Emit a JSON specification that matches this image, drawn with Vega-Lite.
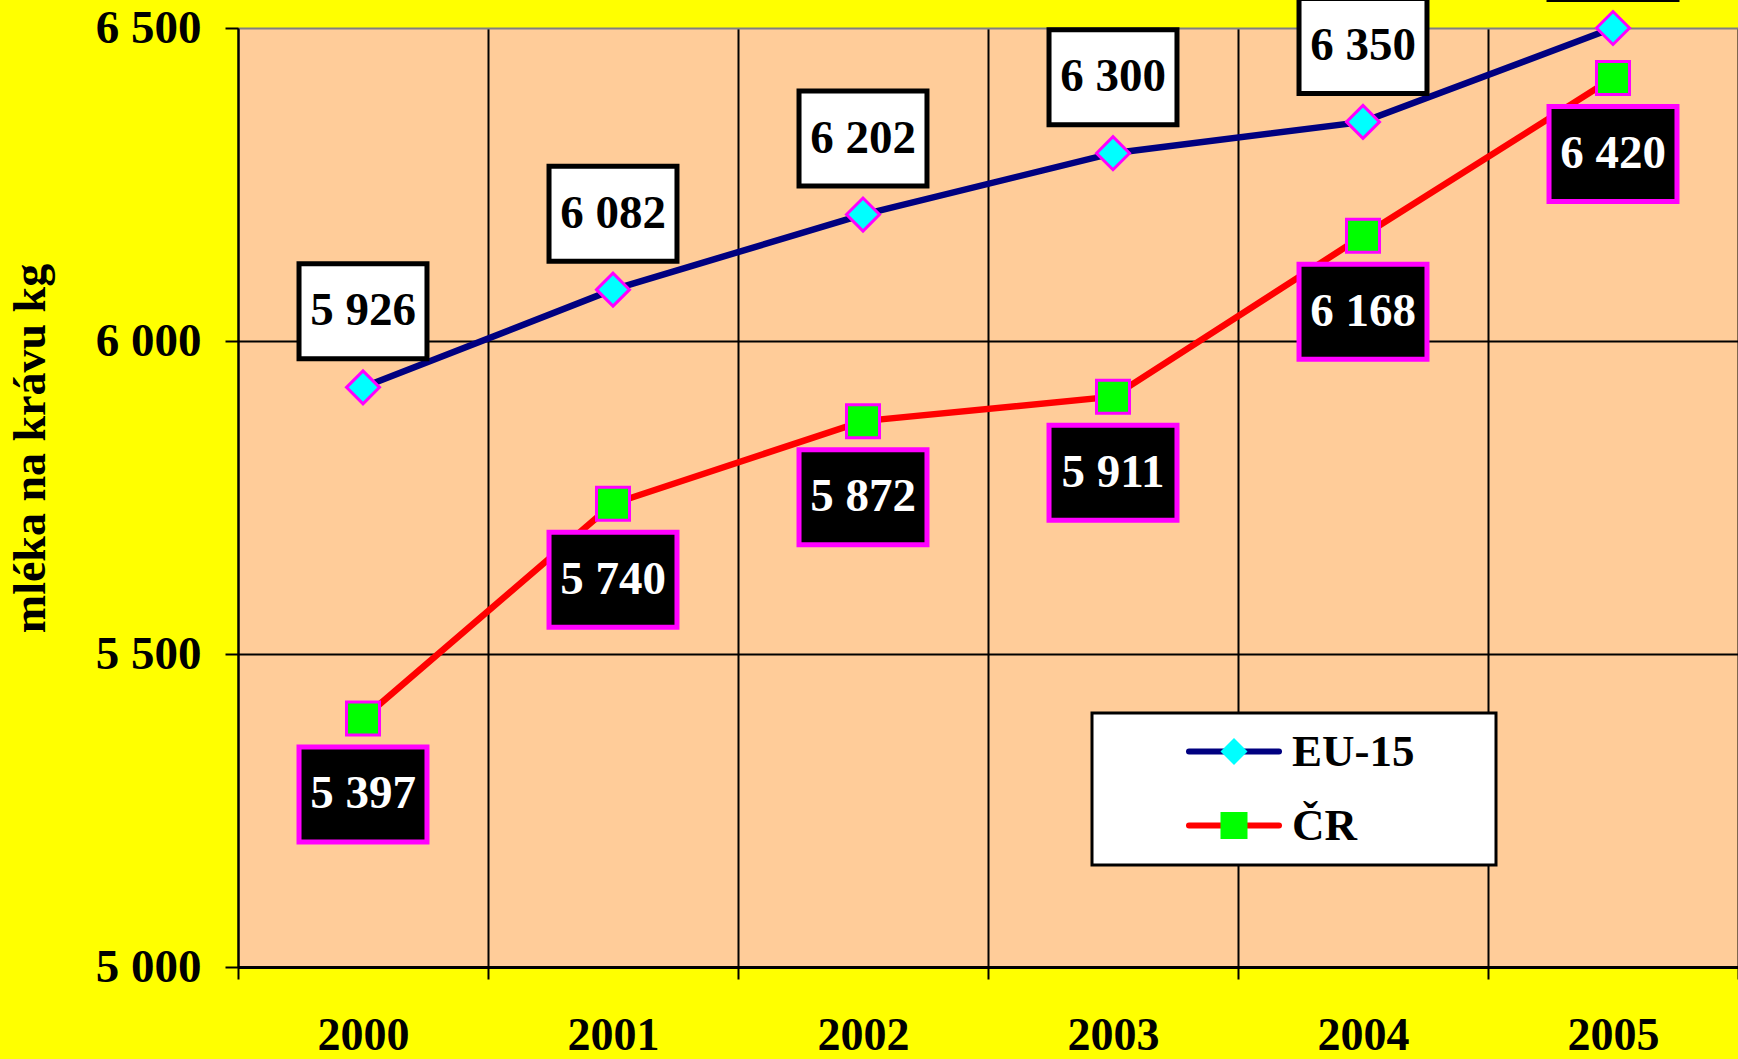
{
  "$schema": "https://vega.github.io/schema/vega-lite/v6.json",
  "width": 1500,
  "height": 939,
  "autosize": {"type": "none"},
  "padding": {"left": 238, "top": 28, "right": 0, "bottom": 92},
  "background": "#FFFF00",
  "config": {
    "locale": {"number": {"decimal": ",", "thousands": " ", "grouping": [3], "currency": ["", ""]}},
    "view": {"fill": "#FFCC99", "stroke": null},
    "font": "Liberation Serif"
  },
  "data": {
    "values": [
      {"rok": "2000", "rada": "EU-15", "znacka": "EU-15", "kg": 5926},
      {"rok": "2001", "rada": "EU-15", "znacka": "EU-15", "kg": 6082},
      {"rok": "2002", "rada": "EU-15", "znacka": "EU-15", "kg": 6202},
      {"rok": "2003", "rada": "EU-15", "znacka": "EU-15", "kg": 6300},
      {"rok": "2004", "rada": "EU-15", "znacka": "EU-15", "kg": 6350},
      {"rok": "2005", "rada": "EU-15", "znacka": "EU-15", "kg": 6500},
      {"rok": "2000", "rada": "ČR", "znacka": "ČR", "kg": 5397},
      {"rok": "2001", "rada": "ČR", "znacka": "ČR", "kg": 5740},
      {"rok": "2002", "rada": "ČR", "znacka": "ČR", "kg": 5872},
      {"rok": "2003", "rada": "ČR", "znacka": "ČR", "kg": 5911},
      {"rok": "2004", "rada": "ČR", "znacka": "ČR", "kg": 6168},
      {"rok": "2005", "rada": "ČR", "znacka": "ČR", "kg": 6420}
    ]
  },
  "encoding": {
    "x": {
      "field": "rok",
      "type": "nominal",
      "scale": {"type": "band", "paddingInner": 0, "paddingOuter": 0},
      "axis": {
        "title": null,
        "labelAngle": 0,
        "tickBand": "extent",
        "grid": true,
        "gridColor": "black",
        "gridWidth": 2,
        "domainColor": "black",
        "domainWidth": 3,
        "tickColor": "black",
        "tickWidth": 2,
        "tickSize": 12,
        "labelFont": "Liberation Serif",
        "labelFontSize": 46,
        "labelFontWeight": "bold",
        "labelColor": "black",
        "labelPadding": 34
      }
    },
    "y": {
      "field": "kg",
      "type": "quantitative",
      "scale": {"domain": [5000, 6500], "nice": false, "zero": false},
      "axis": {
        "title": "mléka na krávu kg",
        "values": [5000, 5500, 6000, 6500],
        "format": ",d",
        "grid": true,
        "gridColor": {"condition": {"test": "datum.value === 6500", "value": "#808080"}, "value": "black"},
        "gridWidth": 2,
        "domainColor": "black",
        "domainWidth": 2,
        "tickColor": "black",
        "tickWidth": 2,
        "tickSize": 13,
        "labelFont": "Liberation Serif",
        "labelFontSize": 47,
        "labelFontWeight": "bold",
        "labelColor": "black",
        "labelPadding": 24,
        "titleFont": "Liberation Serif",
        "titleFontSize": 46,
        "titleFontWeight": "bold",
        "titleColor": "black",
        "titleX": -184,
        "titleY": 420
      }
    }
  },
  "layer": [
    {
      "mark": {"type": "line", "strokeWidth": 6.5},
      "encoding": {
        "color": {
          "field": "rada",
          "type": "nominal",
          "scale": {"domain": ["EU-15", "ČR"], "range": ["#000080", "#FF0000"]},
          "legend": {
            "orient": "none",
            "legendX": 854,
            "legendY": 685,
            "title": null,
            "padding": 16,
            "fillColor": "white",
            "strokeColor": "black",
            "symbolType": "M14.6,0M-2.8125,0L2.8125,0",
            "symbolSize": 1024,
            "symbolStrokeWidth": 6,
            "symbolOffset": 103.5,
            "labelOffset": 35.5,
            "labelFont": "Liberation Serif",
            "labelFontSize": 45,
            "labelFontWeight": "bold",
            "labelColor": "black",
            "labelLimit": 400,
            "rowPadding": 28,
            "encoding": {
              "legend": {"strokeWidth": {"value": 3}},
              "symbols": {"strokeCap": {"value": "round"}}
            }
          }
        }
      }
    },
    {
      "mark": {"type": "point", "filled": true, "size": 1089, "stroke": "#FF00FF", "strokeWidth": 3, "opacity": 1},
      "encoding": {
        "fill": {
          "field": "znacka",
          "type": "nominal",
          "scale": {"range": ["#00FFFF", "#00FF00"]},
          "legend": {
            "orient": "none",
            "legendX": 854,
            "legendY": 685,
            "title": null,
            "padding": 16,
            "symbolSize": 729,
            "symbolStrokeWidth": 3,
            "symbolStrokeColor": "#FF00FF",
            "symbolOffset": 103.5,
            "labelOffset": 35.5,
            "labelFont": "Liberation Serif",
            "labelFontSize": 45,
            "labelFontWeight": "bold",
            "labelOpacity": 0,
            "labelLimit": 400,
            "rowPadding": 28
          }
        },
        "shape": {
          "field": "znacka",
          "type": "nominal",
          "scale": {"range": ["diamond", "square"]},
          "legend": {
            "orient": "none",
            "legendX": 854,
            "legendY": 685,
            "title": null,
            "padding": 16,
            "symbolSize": 729,
            "symbolStrokeWidth": 3,
            "symbolStrokeColor": "#FF00FF",
            "symbolOffset": 103.5,
            "labelOffset": 35.5,
            "labelFont": "Liberation Serif",
            "labelFontSize": 45,
            "labelFontWeight": "bold",
            "labelOpacity": 0,
            "labelLimit": 400,
            "rowPadding": 28
          }
        }
      }
    },
    {
      "transform": [{"filter": "datum.rada === 'EU-15'"}],
      "mark": {"type": "point", "shape": "M-1.347,-1L1.347,-1L1.347,1L-1.347,1Z", "size": 9025, "filled": true, "fill": "white", "stroke": "black", "strokeWidth": 5, "opacity": 1, "yOffset": -76}
    },
    {
      "transform": [{"filter": "datum.rada === 'ČR'"}],
      "mark": {"type": "point", "shape": "M-1.347,-1L1.347,-1L1.347,1L-1.347,1Z", "size": 9025, "filled": true, "fill": "black", "stroke": "#FF00FF", "strokeWidth": 5, "opacity": 1, "yOffset": 76}
    },
    {
      "transform": [{"filter": "datum.rada === 'EU-15'"}],
      "mark": {"type": "text", "font": "Liberation Serif", "fontSize": 47, "fontWeight": "bold", "color": "black", "baseline": "middle", "align": "center", "yOffset": -76},
      "encoding": {"text": {"field": "kg", "type": "quantitative", "format": ",d"}}
    },
    {
      "transform": [{"filter": "datum.rada === 'ČR'"}],
      "mark": {"type": "text", "font": "Liberation Serif", "fontSize": 47, "fontWeight": "bold", "color": "white", "baseline": "middle", "align": "center", "yOffset": 76},
      "encoding": {"text": {"field": "kg", "type": "quantitative", "format": ",d"}}
    }
  ]
}
